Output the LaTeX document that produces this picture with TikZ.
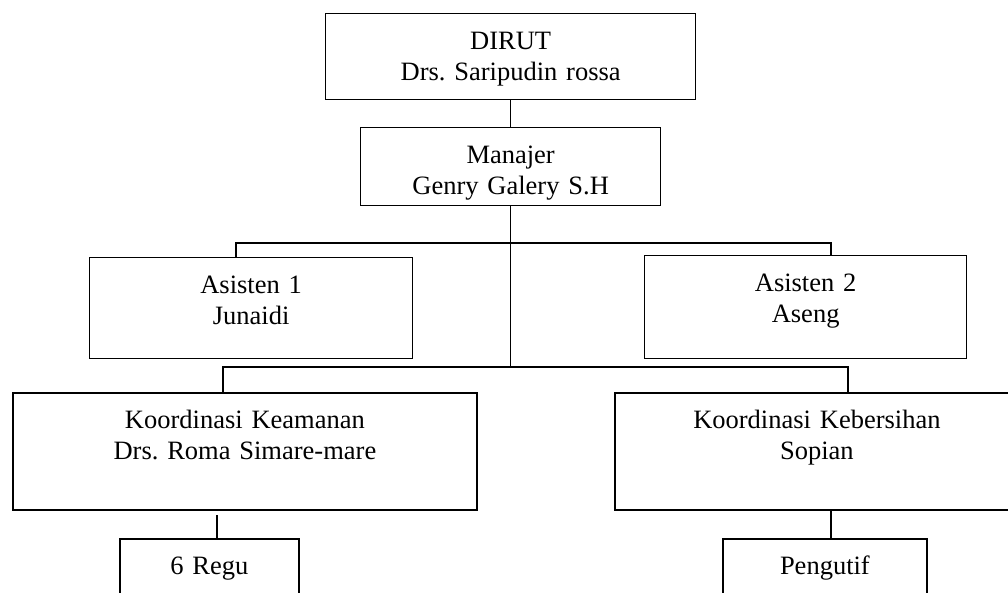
\documentclass[tikz,border=0pt]{standalone}
\usepackage{fontspec}
\setmainfont{Liberation Serif}
\usepackage{tikz}
\frenchspacing
\tikzstyle{orgbox} = [rectangle, draw=black, line width=1.3pt, anchor=north west, inner sep=0pt,
                      align=center, text height=36pt, font=\fontsize{26.5}{31}\selectfont]
\tikzstyle{wideorg} = [orgbox, line width=1.8pt]
\tikzstyle{link}   = [line width=1.4pt]

\begin{document}
\begin{tikzpicture}[x=1pt, y=-1pt]
                \useasboundingbox (0,0) rectangle (1008,592);
                \clip (0,0) rectangle (1008,592);
                \node (dirut) [orgbox, text width=370pt, text depth=50pt] at (325,13) {DIRUT\\Drs. Saripudin rossa};
                \node (manajer) [orgbox, text width=300pt, text depth=42pt] at (360,127) {Manajer\\Genry Galery S.H};
                \node (asisten1) [orgbox, text width=323pt, text depth=65pt] at (89,257) {Asisten 1\\Junaidi};
                \node (asisten2) [orgbox, text width=322pt, text depth=67pt] at (644,255) {Asisten 2\\Aseng};
                \node (keamanan) [wideorg, text width=464pt, text depth=81pt] at (12,392) {Koordinasi Keamanan\\Drs. Roma Simare-mare};
                \node (kebersihan) [wideorg, text width=404pt, text depth=81pt] at (614,392) {Koordinasi Kebersihan\\Sopian};
                \node (regu) [wideorg, text width=179pt, text depth=54pt] at (119,538) {6 Regu};
                \node (pengutif) [wideorg, text width=204pt, text depth=54pt] at (722,538) {Pengutif};
                % bus lines
                \coordinate (upL) at (236,243); \coordinate (upR) at (831,243);
                \coordinate (lowL) at (223,367); \coordinate (lowR) at (848,367);
                \coordinate (reguTap) at (217,515); \coordinate (pengTap) at (831,511);
                \draw[link] (dirut.south) -- (manajer.north);
                \draw[link] (manajer.south) -- (manajer.south |- lowL);
                \draw[link] (asisten1.north -| upL) |- (upR) -- (asisten2.north -| upR);
                \draw[link] (keamanan.north -| lowL) |- (lowR) -- (kebersihan.north -| lowR);
                \draw[link] (reguTap) -- (regu.north -| reguTap);
                \draw[link] (pengTap) -- (pengutif.north -| pengTap);
            \end{tikzpicture}
\end{document}
